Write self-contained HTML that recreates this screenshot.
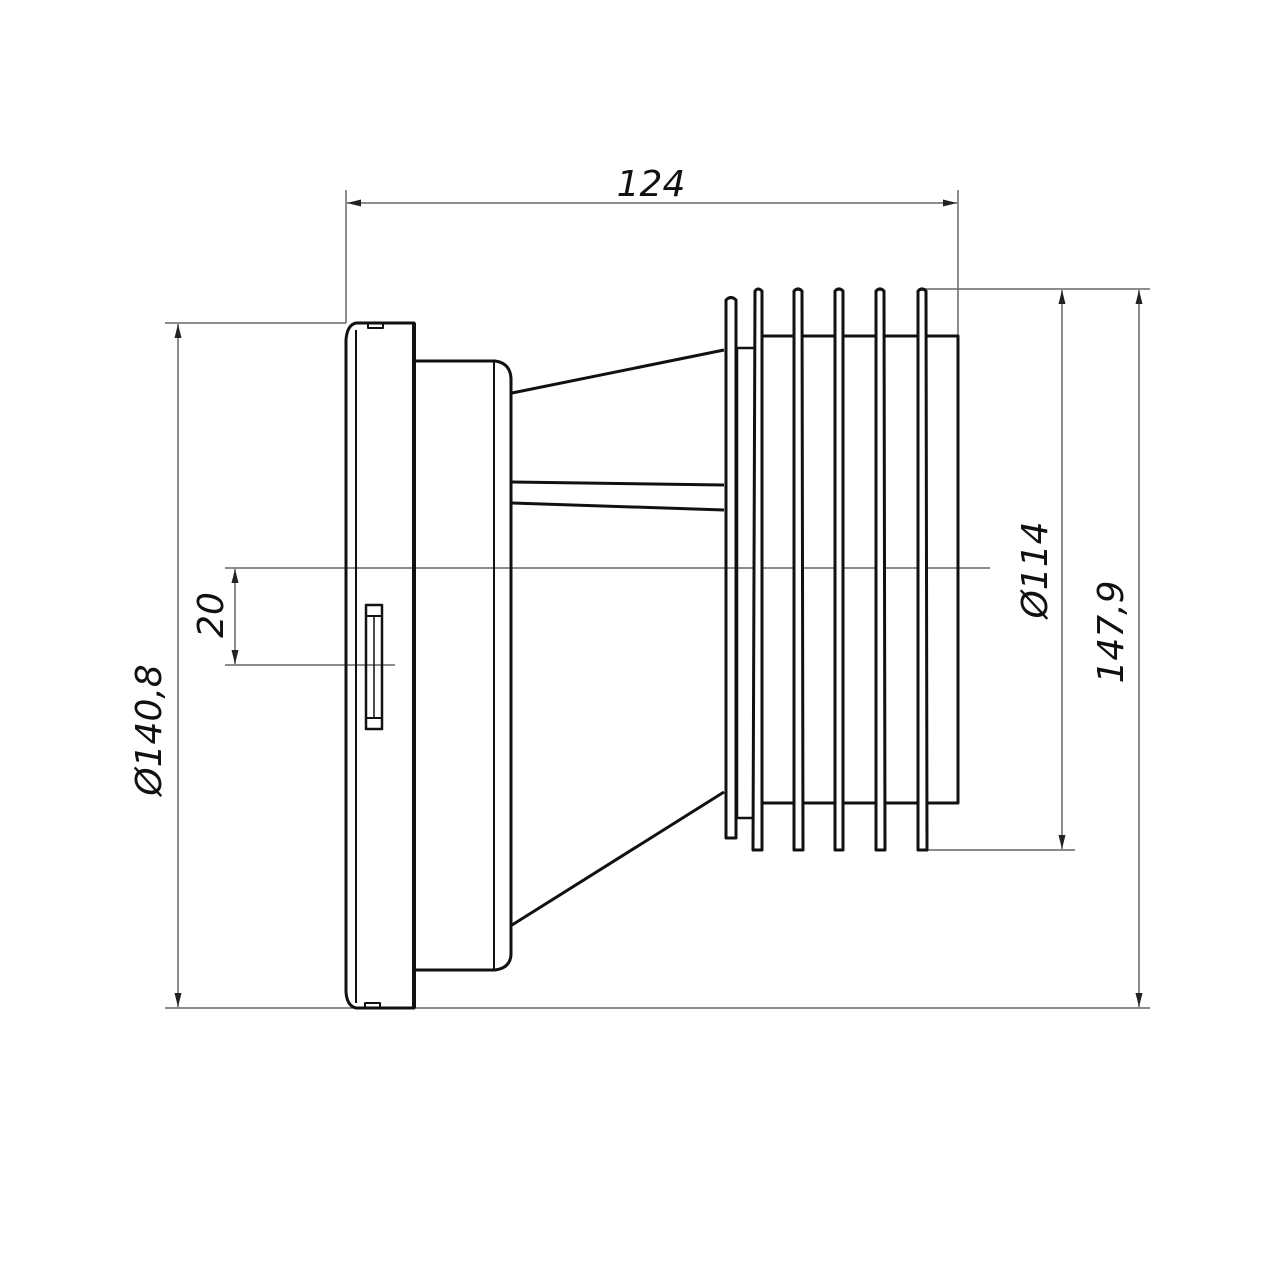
<!DOCTYPE html>
<html><head><meta charset="utf-8"><style>
html,body{margin:0;padding:0;background:#fff;}
svg{display:block;}
text{font-family:"DejaVu Sans","Liberation Sans",sans-serif;font-style:italic;fill:#111;}
</style></head><body>
<svg width="1280" height="1280" viewBox="0 0 1280 1280" xmlns="http://www.w3.org/2000/svg">
<defs>
<marker id="a" viewBox="0 0 16 8" refX="16" refY="4" markerWidth="16" markerHeight="7" orient="auto-start-reverse" markerUnits="userSpaceOnUse">
<path d="M0,0 L16,4 L0,8 Z" fill="#222"/></marker>
</defs>
<g stroke="#666" stroke-width="1.5" fill="none">
<line x1="346" y1="190" x2="346" y2="323"/>
<line x1="958" y1="190" x2="958" y2="336"/>
<line x1="347" y1="203" x2="957" y2="203" marker-start="url(#a)" marker-end="url(#a)"/>
<line x1="165" y1="323" x2="346" y2="323"/>
<line x1="165" y1="1008" x2="1150" y2="1008"/>
<line x1="178" y1="324" x2="178" y2="1007" marker-start="url(#a)" marker-end="url(#a)"/>
<line x1="225" y1="568" x2="990" y2="568"/>
<line x1="225" y1="665" x2="395" y2="665"/>
<line x1="235" y1="569" x2="235" y2="664" marker-start="url(#a)" marker-end="url(#a)"/>
<line x1="922" y1="289" x2="1150" y2="289"/>
<line x1="922" y1="850" x2="1075" y2="850"/>
<line x1="1062" y1="290" x2="1062" y2="849" marker-start="url(#a)" marker-end="url(#a)"/>
<line x1="1139" y1="290" x2="1139" y2="1007" marker-start="url(#a)" marker-end="url(#a)"/>
</g>
<g stroke="#111" stroke-width="3" fill="none" stroke-linejoin="round">
<path d="M414,323 L356,323 Q347,325 346,340 L346,992 Q347,1006 356,1008 L414,1008 Z"/>
<line x1="356" y1="330" x2="356" y2="1003" stroke-width="2"/>
<path d="M368,323 v5 h15 v-5" stroke-width="2"/>
<path d="M365,1008 v-5 h15 v5" stroke-width="2"/>
<line x1="414" y1="323" x2="414" y2="1008" stroke-width="4"/>
<path d="M414,361 L495,361 Q510,363 511,378 L511,955 Q510,968 495,970 L414,970"/>
<line x1="494" y1="362" x2="494" y2="969" stroke-width="2"/>
<line x1="512" y1="393" x2="724" y2="350"/>
<line x1="512" y1="925" x2="724" y2="792"/>
<line x1="512" y1="482" x2="724" y2="485"/>
<line x1="512" y1="503" x2="724" y2="510"/>
<path d="M726,838 L726,300 Q731,295 736,300 L736,838 Z" stroke-width="3"/>
<rect x="737" y="348" width="18" height="470" stroke-width="2.5"/>
<rect x="757" y="336" width="201" height="467"/>
<g fill="#fff">
<path d="M753,850 L755,291 Q758,287 762,291 L762,850 Z"/>
<path d="M794,850 L794,291 Q798,287 802,291 L803,850 Z"/>
<path d="M835,850 L835,291 Q839,287 843,291 L843,850 Z"/>
<path d="M876,850 L876,291 Q880,287 884,291 L885,850 Z"/>
<path d="M918,850 L918,291 Q922,287 926,291 L927,850 Z"/>
</g>
<rect x="366" y="605" width="16" height="124" stroke-width="2.5"/>
<line x1="366" y1="616" x2="382" y2="616" stroke-width="2"/>
<line x1="366" y1="718" x2="382" y2="718" stroke-width="2"/>
<line x1="374" y1="617" x2="374" y2="717" stroke-width="1.5"/>
</g>
<text x="651" y="196" font-size="36" text-anchor="middle">124</text>
<text transform="translate(161,730) rotate(-90)" font-size="36" text-anchor="middle">Ø140,8</text>
<text transform="translate(223,615) rotate(-90)" font-size="36" text-anchor="middle">20</text>
<text transform="translate(1047,570) rotate(-90)" font-size="36" text-anchor="middle">Ø114</text>
<text transform="translate(1123,632) rotate(-90)" font-size="36" text-anchor="middle">147,9</text>
</svg>
</body></html>
